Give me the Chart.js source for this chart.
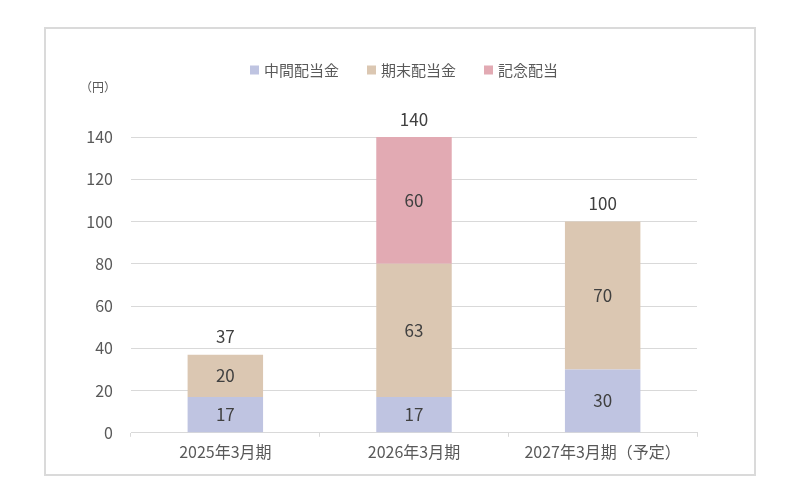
<!DOCTYPE html>
<html lang="ja">
<head>
    <meta charset="UTF-8">
    <title>配当金の推移</title>
    <script src="https://cdn.jsdelivr.net/npm/chart.js"></script>
    <style>
        body {
            margin: 0;
            background: #fff;
            font-family: 'Noto Sans CJK JP', sans-serif;
        }
        .wrap {
            position: relative;
            width: 800px;
            height: 500px;
        }
        .frame {
            position: absolute;
            left: 44px;
            top: 27px;
            width: 708px;
            height: 445px;
            border: 2px solid #dadada;
            pointer-events: none;
        }
    </style>
</head>
<body>
<div class="wrap">
    <canvas id="chart" width="800" height="500"></canvas>
    <div class="frame"></div>
</div>

<script>
    // data
    const categories = ['2025年3月期', '2026年3月期', '2027年3月期（予定）'];
    const interim = [17, 17, 30];        // 中間配当金
    const yearEnd = [20, 63, 70];        // 期末配当金
    const commemorative = [null, 60, null]; // 記念配当
    const totals = [37, 140, 100];

    const textColor = '#595959';
    const fontFamily = "'Noto Sans CJK JP', sans-serif";

    // value labels, totals, legend and unit label
    const labelPlugin = {
        id: 'labels',
        afterDatasetsDraw(chart) {
            const ctx = chart.ctx;
            ctx.save();
            ctx.font = '17px ' + fontFamily;
            ctx.fillStyle = '#404040';
            ctx.textAlign = 'center';
            ctx.textBaseline = 'middle';
            const tops = [];
            chart.data.datasets.forEach((ds, di) => {
                const meta = chart.getDatasetMeta(di);
                meta.data.forEach((bar, i) => {
                    const v = ds.data[i];
                    if (v == null) return;
                    ctx.fillText(v, bar.x, (bar.y + bar.base) / 2);
                    if (tops[i] === undefined || bar.y < tops[i].y) tops[i] = { x: bar.x, y: bar.y };
                });
            });
            tops.forEach((t, i) => {
                ctx.fillText(totals[i], t.x, t.y - 18);
            });

            // legend, centred on the page
            ctx.font = '15px ' + fontFamily;
            ctx.textAlign = 'left';
            const box = 9, gapText = 5, gapItem = 28;
            const items = chart.data.datasets.map(ds => ({
                label: ds.label, color: ds.backgroundColor, w: box + gapText + ctx.measureText(ds.label).width
            }));
            const total = items.reduce((s, it) => s + it.w, 0) + gapItem * (items.length - 1);
            let x = 404 - total / 2;
            const y = 70;
            items.forEach(it => {
                ctx.fillStyle = it.color;
                ctx.fillRect(x, y - box / 2, box, box);
                ctx.fillStyle = textColor;
                ctx.fillText(it.label, x + box + gapText, y);
                x += it.w + gapItem;
            });

            // unit label
            ctx.font = '12px ' + fontFamily;
            ctx.textAlign = 'center';
            ctx.fillText('（円）', 98, 87);
            ctx.restore();
        }
    };

    new Chart(document.getElementById('chart'), {
        type: 'bar',
        data: {
            labels: categories,
            datasets: [
                { label: '中間配当金', data: interim, backgroundColor: '#bfc4e1' },
                { label: '期末配当金', data: yearEnd, backgroundColor: '#dbc7b2' },
                { label: '記念配当', data: commemorative, backgroundColor: '#e2aab3' }
            ]
        },
        options: {
            responsive: false,
            animation: false,
            layout: { padding: { left: 0, right: 103, top: 116, bottom: 32 } },
            datasets: {
                bar: { barPercentage: 0.4, categoryPercentage: 1 }
            },
            plugins: {
                legend: { display: false },
                tooltip: { enabled: false }
            },
            scales: {
                x: {
                    stacked: true,
                    grid: {
                        offset: true,
                        drawOnChartArea: false,
                        drawTicks: true,
                        tickLength: 4,
                        color: '#d9d9d9'
                    },
                    border: { color: '#d9d9d9' },
                    ticks: {
                        color: textColor,
                        padding: 6,
                        font: { size: 16, family: fontFamily }
                    }
                },
                y: {
                    stacked: true,
                    min: 0,
                    max: 150,
                    afterFit(scale) { scale.width = 131; },
                    grid: { color: '#d9d9d9', drawTicks: false },
                    border: { display: false },
                    ticks: {
                        stepSize: 10,
                        padding: 18,
                        color: textColor,
                        font: { size: 16, family: fontFamily },
                        callback: v => (v % 20 === 0 ? v : '')
                    }
                }
            }
        },
        plugins: [labelPlugin]
    });
</script>
</body>
</html>
